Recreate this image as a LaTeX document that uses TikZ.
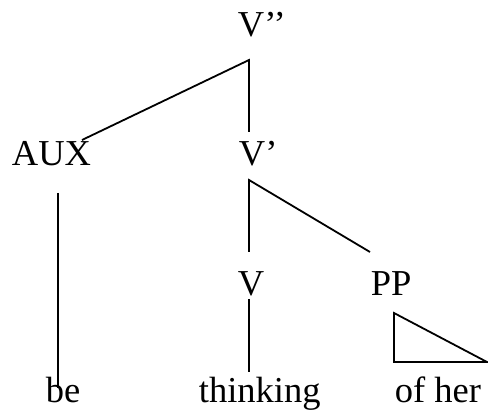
\documentclass[tikz,border=0pt]{standalone}
\usepackage{fontspec}
\setmainfont{Liberation Serif}
\begin{document}
\begin{tikzpicture}[x=1pt,y=-1pt,line width=1.8pt]
\tikzset{lbl/.style={anchor=base west,inner sep=0pt,font=\fontsize{36.5}{40}\selectfont}}
\useasboundingbox (0,0) rectangle (488,417);
% labels
\node[lbl] (vbb) at (237,37) {V’’};
\node[lbl] (aux) at (11,166) {AUX};
\node[lbl] (vb) at (238,166) {V’};
\node[lbl] (v) at (237,295) {V};
\node[lbl] (pp) at (370,295) {PP};
\node[lbl] (be) at (45,402) {be};
\node[lbl] (thinking) at (198,402) {thinking};
\node[lbl] (ofher) at (394,402) {of her};
% connector ends
\coordinate (a1) at (249,60);
\coordinate (auxtop) at (82,140);
\coordinate (vbtop) at (249,132);
\coordinate (auxbot) at (58,193);
\coordinate (betop) at (58,388);
\coordinate (a2) at (249,180);
\coordinate (vtop) at (249,252);
\coordinate (pptop) at (370,252);
\coordinate (vbot) at (249,299);
\coordinate (thtop) at (249,372);
\coordinate (t1) at (394,313);
\coordinate (t2) at (394,362);
\coordinate (t3) at (487,362);
% connectors
\draw (auxtop) -- (a1) -- (vbtop);
\draw (auxbot) -- (betop);
\draw (vtop) -- (a2) -- (pptop);
\draw (vbot) -- (thtop);
\draw (t1) -- (t2) -- (t3) -- cycle;
\end{tikzpicture}
\end{document}
